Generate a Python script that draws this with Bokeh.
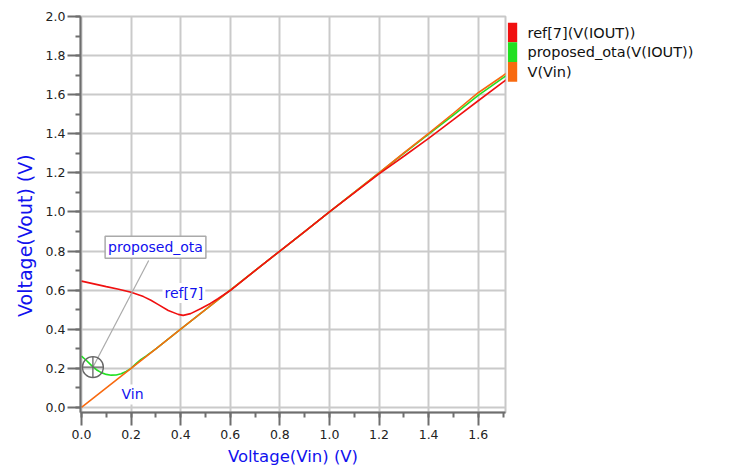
from bokeh.plotting import figure
from bokeh.layouts import row
from bokeh.models import Range1d, SingleIntervalTicker, PrintfTickFormatter, Label
from bokeh.core.properties import value
from bokeh.embed import file_html
from bokeh.resources import INLINE

# ---- data ----
vin_x = [0.0, 0.1, 0.2, 0.3, 0.4, 0.5, 0.6, 0.7, 0.8, 0.9, 1.0, 1.1, 1.2, 1.3, 1.4, 1.5, 1.6, 1.7, 1.72]
vin_y = [0.0, 0.1, 0.2, 0.3, 0.4, 0.5, 0.6, 0.7, 0.8, 0.9, 1.0, 1.1, 1.2, 1.302, 1.402, 1.505, 1.610, 1.697, 1.716]

ota_x = [0.0, 0.02, 0.04, 0.06, 0.08, 0.10, 0.12, 0.14, 0.16, 0.18, 0.20, 0.22, 0.24, 0.26, 0.3,
         0.4, 0.5, 0.6, 0.7, 0.8, 0.9, 1.0, 1.1, 1.2, 1.3, 1.4, 1.5, 1.6, 1.7, 1.72]
ota_y = [0.262, 0.240, 0.215, 0.193, 0.178, 0.169, 0.165, 0.166, 0.172, 0.184, 0.200, 0.224, 0.246, 0.262, 0.300,
         0.400, 0.500, 0.600, 0.700, 0.800, 0.900, 1.000, 1.100, 1.200, 1.300, 1.398, 1.496, 1.596, 1.686, 1.704]

ref_x = [0.0, 0.05, 0.1, 0.15, 0.2, 0.25, 0.28, 0.31, 0.35, 0.39, 0.41, 0.44, 0.48, 0.52, 0.55, 0.6,
         0.7, 0.8, 0.9, 1.0, 1.1, 1.2, 1.3, 1.4, 1.5, 1.6, 1.7, 1.72]
ref_y = [0.646, 0.632, 0.618, 0.605, 0.589, 0.567, 0.548, 0.526, 0.496, 0.476, 0.471, 0.480, 0.505, 0.532, 0.556, 0.598,
         0.700, 0.800, 0.900, 1.000, 1.098, 1.195, 1.285, 1.376, 1.472, 1.569, 1.664, 1.683]

series_names = ["ref[7](V(IOUT))", "proposed_ota(V(IOUT))", "V(Vin)"]
series_colors = ["#f01010", "#22e022", "#f86a10"]

# annotation anchors (data coordinates)
marker_pt = (0.046, 0.206)
leader_end = (0.271, 0.752)
ota_label_pos = (0.2985, 0.820)
ref_label_pos = (0.413, 0.586)
vin_label_pos = (0.2057, 0.0665)

BLUE = "#1111ee"
FONT = "DejaVu Sans"
H = 469

p = figure(width=507, height=H,
           x_range=Range1d(-0.004, 1.71), y_range=Range1d(-0.026, 2.0),
           output_backend="svg", toolbar_location=None,
           min_border_left=80, min_border_right=2, min_border_top=16, min_border_bottom=57,
           background_fill_color="white", border_fill_color="white")
p.outline_line_color = "#c8c8c8"
p.outline_line_width = 2

for ax, standoff in ((p.xaxis[0], 4), (p.yaxis[0], 2)):
    ax.ticker = SingleIntervalTicker(interval=0.2, num_minor_ticks=2)
    ax.formatter = PrintfTickFormatter(format="%.1f")
    ax.axis_line_color = "#6e6e6e"
    ax.axis_line_width = 2
    ax.major_tick_line_color = "#6e6e6e"
    ax.major_tick_line_width = 2
    ax.minor_tick_line_color = "#6e6e6e"
    ax.minor_tick_line_width = 2
    ax.major_tick_in = 0
    ax.major_tick_out = 13
    ax.minor_tick_in = 0
    ax.minor_tick_out = 5
    ax.major_label_standoff = standoff
    ax.major_label_text_font = FONT
    ax.major_label_text_font_size = "12.5px"
    ax.major_label_text_color = "#222222"

p.xaxis.axis_label = "Voltage(Vin) (V)"
p.xaxis.axis_label_text_font_size = "16.5px"
p.xaxis.axis_label_standoff = 5
# trailing no-break spaces shift the visible title toward the lower part of the axis, as in the reference
p.yaxis.axis_label = "Voltage(Vout) (V)" + "\u00a0" * 7
p.yaxis.axis_label_text_font_size = "19px"
p.yaxis.axis_label_standoff = 7
for ax in (p.xaxis[0], p.yaxis[0]):
    ax.axis_label_text_font = FONT
    ax.axis_label_text_font_style = "normal"
    ax.axis_label_text_color = BLUE

p.xgrid.ticker = SingleIntervalTicker(interval=0.2)
p.ygrid.ticker = SingleIntervalTicker(interval=0.2)
p.grid.grid_line_color = "#cacaca"
p.grid.grid_line_width = 2

# curves
p.line(ota_x, ota_y, line_color=series_colors[1], line_width=1.6)
p.line(vin_x, vin_y, line_color=series_colors[2], line_width=1.6)
p.line(ref_x, ref_y, line_color=series_colors[0], line_width=1.6)

# leader line & marker
p.line([marker_pt[0], leader_end[0]], [marker_pt[1], leader_end[1]], line_color="#aaaaaa", line_width=1.2)
p.scatter([marker_pt[0]], [marker_pt[1]], marker="circle_cross", size=21, fill_color=None,
          line_color="#666666", line_width=1.3)

# text annotations
p.add_layout(Label(x=ota_label_pos[0], y=ota_label_pos[1], text="proposed_ota", text_font=FONT,
                   text_font_size="14px", text_color=BLUE, text_align="center", text_baseline="middle",
                   background_fill_color="white", border_line_color="#aaaaaa", border_line_width=1.5,
                   padding=3))
p.add_layout(Label(x=ref_label_pos[0], y=ref_label_pos[1], text="ref[7]", text_font=FONT,
                   text_font_size="14px", text_color=BLUE, text_align="center", text_baseline="middle",
                   background_fill_color="white", padding=2))
p.add_layout(Label(x=vin_label_pos[0], y=vin_label_pos[1], text="Vin", text_font=FONT,
                   text_font_size="14px", text_color=BLUE, text_align="center", text_baseline="middle",
                   background_fill_color="white", padding=2))

# ---- legend panel: a second, axis-less figure in pixel-like units (y grows downward) ----
LEG_W = 213
ROW_H = 23.3
LEG_TOP = 7.3
SW_X0, SW_X1, TXT_X = 0.3, 9.7, 20

lg = figure(width=LEG_W, height=H, x_range=Range1d(0, LEG_W), y_range=Range1d(H, 0),
            output_backend="svg", toolbar_location=None,
            min_border_left=0, min_border_right=0, min_border_top=0, min_border_bottom=0)
lg.axis.visible = False
lg.grid.visible = False
lg.outline_line_color = None
lg.background_fill_color = "white"
lg.border_fill_color = "white"

n = len(series_names)
tops = [LEG_TOP + i * ROW_H for i in range(n)]
bottoms = [t + ROW_H for t in tops]
mids = [t + ROW_H / 2 for t in tops]
lg.quad(left=[SW_X0] * n, right=[SW_X1] * n, top=tops, bottom=bottoms,
        fill_color=series_colors, line_color=None)
lg.text(x=[TXT_X] * n, y=mids, text=series_names, text_font=value(FONT), text_font_size="14.5px",
        text_color="#111111", text_align="left", text_baseline="middle")

layout = row(p, lg, spacing=0)
open("out.html", "w").write(file_html(layout, INLINE))
